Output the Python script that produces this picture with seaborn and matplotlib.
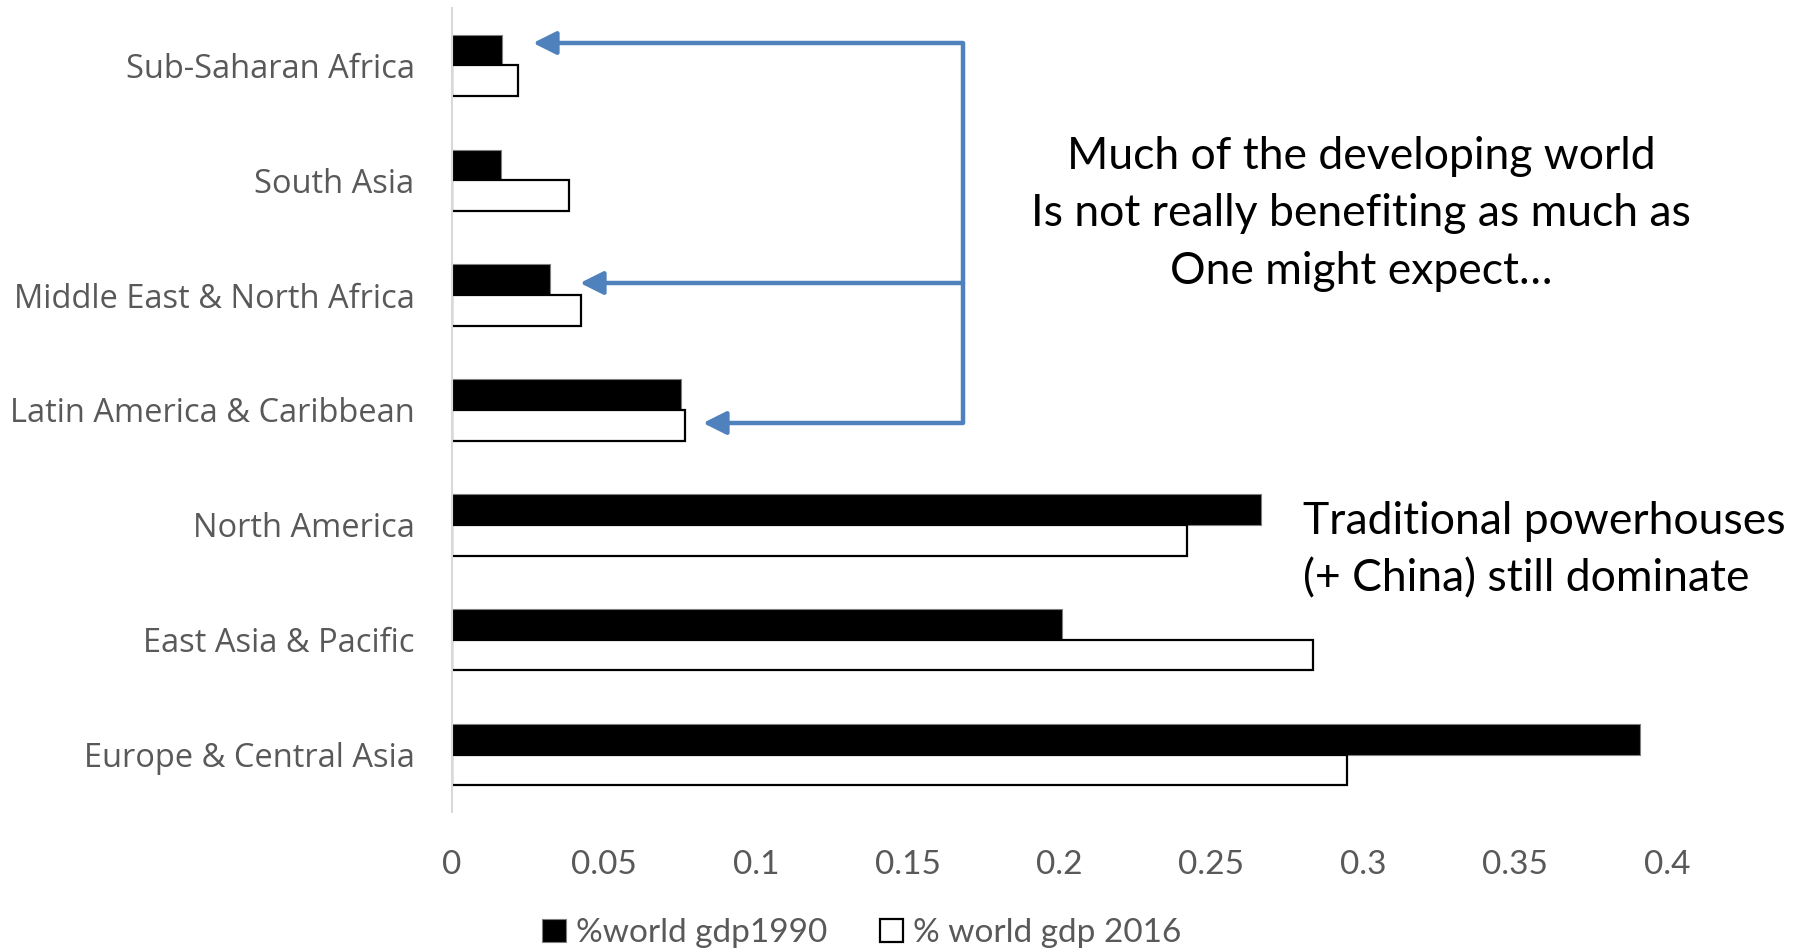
import matplotlib
matplotlib.use("Agg")
import matplotlib.pyplot as plt
import matplotlib.patches as mpatches
import numpy as np
import pandas as pd
import seaborn as sns

REGIONS = [
    "Sub-Saharan Africa",
    "South Asia",
    "Middle East & North Africa",
    "Latin America & Caribbean",
    "North America",
    "East Asia & Pacific",
    "Europe & Central Asia",
]
GDP_1990 = [0.0165, 0.0161, 0.0323, 0.0754, 0.2663, 0.2008, 0.3911]
GDP_2016 = [0.0217, 0.0385, 0.0425, 0.0767, 0.2420, 0.2835, 0.2947]
SERIES = ["%world gdp1990", "% world gdp 2016"]
X_TICKS = [0, 0.05, 0.1, 0.15, 0.2, 0.25, 0.3, 0.35, 0.4]
X_TICK_LABELS = ["0", "0.05", "0.1", "0.15", "0.2", "0.25", "0.3", "0.35", "0.4"]

NOTE_TOP = "Much of the developing world\nIs not really benefiting as much as\nOne might expect\u2026"
NOTE_BOTTOM = "Traditional powerhouses\n(+ China) still dominate"

W, H = 1794, 949
GREY = "#595959"
BLUE = "#4F81BD"


def fx(px):
    return px / W


def fy(py):
    return 1 - py / H


df = pd.DataFrame({
    "region": REGIONS * 2,
    "share": GDP_1990 + GDP_2016,
    "series": [SERIES[0]] * len(REGIONS) + [SERIES[1]] * len(REGIONS),
})

sns.set_theme(style="white")
plt.rcParams["font.family"] = ["Lato", "DejaVu Sans"]

fig = plt.figure(figsize=(W / 100, H / 100), dpi=100)
ax = fig.add_axes([fx(452), fy(812), fx(1667) - fx(452), fy(8) - fy(812)])

sns.barplot(
    data=df, x="share", y="region", hue="series", order=REGIONS,
    hue_order=SERIES, palette=["black", "white"], orient="h",
    width=0.535, gap=0, ax=ax, legend=False,
)
for bar in ax.patches[: len(REGIONS)]:
    bar.set_edgecolor("#7f7f7f")
    bar.set_linewidth(0.8)
for bar in ax.patches[len(REGIONS):]:
    bar.set_edgecolor("black")
    bar.set_linewidth(1.6)

ax.set_xlim(0, 0.4)
ax.set_ylim(len(REGIONS) - 0.5, -0.5)
ax.set_xticks(X_TICKS)
ax.set_xticklabels(X_TICK_LABELS, fontsize=24, color=GREY)
ax.set_yticklabels(REGIONS, fontsize=23.5, color=GREY, family=["Open Sans", "DejaVu Sans"])
ax.tick_params(axis="x", length=0, pad=27)
ax.tick_params(axis="y", length=0, pad=27)
ax.set_xlabel("")
ax.set_ylabel("")
for side in ["top", "right", "bottom"]:
    ax.spines[side].set_visible(False)
ax.spines["left"].set_color("#D9D9D9")
ax.spines["left"].set_linewidth(1.5)

# bracket with arrows pointing at the developing regions
vx = fx(963)
fig.add_artist(plt.Line2D([vx, vx], [fy(43), fy(423)], color=BLUE, lw=3.2,
                          solid_capstyle="butt"))
for ypx, tip in [(43, 533), (283, 580), (423, 703)]:
    fig.add_artist(mpatches.FancyArrowPatch(
        (vx, fy(ypx)), (fx(tip), fy(ypx)), transform=fig.transFigure,
        arrowstyle="-|>,head_length=14,head_width=7", color=BLUE, lw=3.2,
        shrinkA=0, shrinkB=0, mutation_scale=1,
    ))

fig.text(fx(1361), fy(214), NOTE_TOP, ha="center", va="center", fontsize=32,
         color="black", linespacing=1.5)
fig.text(fx(1303), fy(550), NOTE_BOTTOM, ha="left", va="center", fontsize=32,
         color="black", linespacing=1.5)

handles = [
    mpatches.Patch(facecolor="black", edgecolor="#7f7f7f", linewidth=0.8),
    mpatches.Patch(facecolor="white", edgecolor="black", linewidth=1.6),
]
fig.legend(handles, SERIES, loc="center", bbox_to_anchor=(fx(862), fy(933)),
           ncol=2, frameon=False, fontsize=24, handlelength=0.7, handleheight=0.7,
           handletextpad=0.3, columnspacing=1.6, labelcolor=GREY)

fig.savefig("out.png", dpi=100)
